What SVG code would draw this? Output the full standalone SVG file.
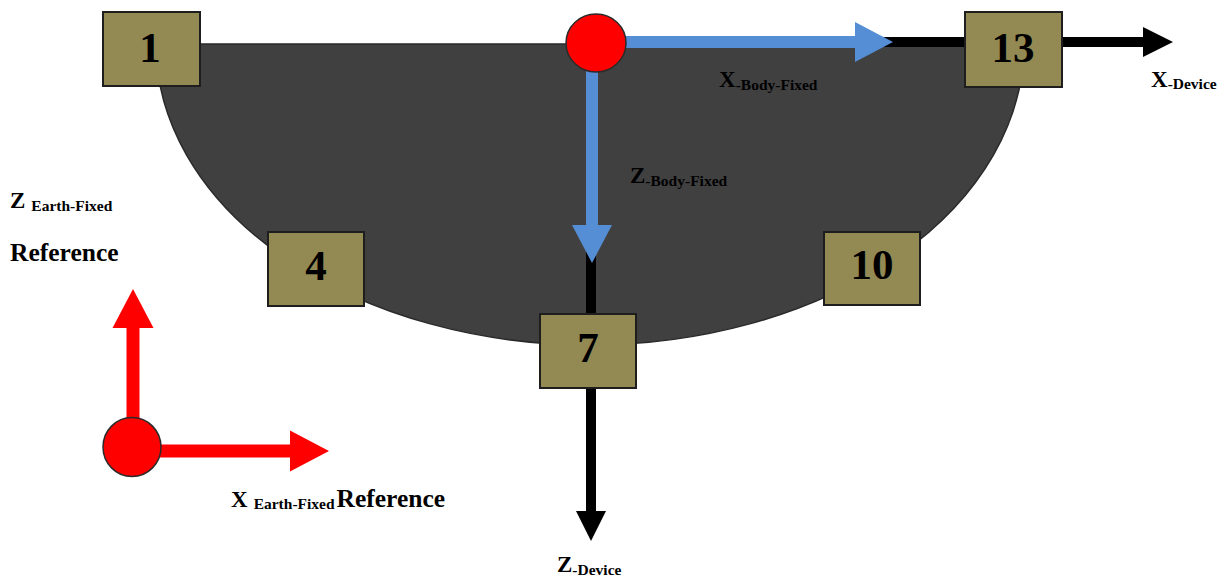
<svg xmlns="http://www.w3.org/2000/svg" width="1226" height="578" viewBox="0 0 1226 578">
<style>
.box{fill:#938953;stroke:#1e1e1e;stroke-width:2}
.num{font-family:"Liberation Serif","Times New Roman",serif;font-weight:bold;font-size:43px;fill:#000;text-anchor:middle}
.lbl{font-family:"Liberation Serif","Times New Roman",serif;font-weight:bold;fill:#000}
.big{font-size:23px}
.sub{font-size:15.5px}
.ref{font-size:25.5px}
.blue{stroke:#558ed5;stroke-width:12;fill:none}
.blk{stroke:#000;stroke-width:10;fill:none}
.red{stroke:#ff0000;stroke-width:13;fill:none}
.dot{fill:#ff0000;stroke:#2a2a2a;stroke-width:1.5}
</style>
<defs>
<marker id="hBlue" markerUnits="userSpaceOnUse" markerWidth="40" markerHeight="42" refX="0" refY="20" orient="auto" overflow="visible"><path d="M0,0 L38,20 L0,40 Z" fill="#558ed5"/></marker>
<marker id="hBlk" markerUnits="userSpaceOnUse" markerWidth="32" markerHeight="32" refX="0" refY="15" orient="auto" overflow="visible"><path d="M0,0 L30,15 L0,30 Z" fill="#000"/></marker>
<marker id="hRed" markerUnits="userSpaceOnUse" markerWidth="42" markerHeight="44" refX="0" refY="20.5" orient="auto" overflow="visible"><path d="M0,0 L39,20.5 L0,41 Z" fill="#ff0000"/></marker>
</defs>
<rect width="1226" height="578" fill="#fff"/>
<g id="body">
<path d="M156,44 A434,301 0 0 0 1024,44 Z" fill="#404040" stroke="#2a2a2a" stroke-width="1.5"/>
</g>
<g id="connectors">
<line class="blk" x1="880" y1="42" x2="966" y2="42"/>
<line class="blk" x1="1062" y1="42" x2="1143" y2="42" marker-end="url(#hBlk)"/>
<line class="blue" x1="610" y1="42" x2="855" y2="42" marker-end="url(#hBlue)"/>
<line class="blk" x1="591" y1="250" x2="591" y2="314"/>
<line class="blk" x1="591" y1="388" x2="591" y2="511" marker-end="url(#hBlk)"/>
<line class="blue" x1="592" y1="65" x2="592" y2="225" marker-end="url(#hBlue)"/>
<line class="red" x1="133" y1="430" x2="133" y2="328" marker-end="url(#hRed)"/>
<line class="red" x1="150" y1="451" x2="290" y2="451" marker-end="url(#hRed)"/>
</g>
<g id="node-1"><rect class="box" x="103" y="12" width="97" height="74"/><text class="num" x="150" y="62">1</text></g>
<g id="node-4"><rect class="box" x="268" y="232" width="96" height="74"/><text class="num" x="316" y="280">4</text></g>
<g id="node-7"><rect class="box" x="540" y="314" width="96" height="74"/><text class="num" x="588" y="362">7</text></g>
<g id="node-10"><rect class="box" x="824" y="232" width="96" height="73"/><text class="num" x="872" y="279">10</text></g>
<g id="node-13"><rect class="box" x="965" y="12" width="97" height="75"/><text class="num" x="1013" y="62">13</text></g>
<g id="origin-body"><ellipse class="dot" cx="596" cy="43" rx="30" ry="29"/></g>
<g id="origin-earth"><ellipse class="dot" cx="132" cy="447" rx="29" ry="29.5"/></g>
<g id="labels">
<text class="lbl" x="719" y="87"><tspan class="big">X</tspan><tspan class="sub" dy="3">-Body-Fixed</tspan></text>
<text class="lbl" x="630" y="183"><tspan class="big">Z</tspan><tspan class="sub" dy="3">-Body-Fixed</tspan></text>
<text class="lbl" x="1151" y="87"><tspan class="big">X</tspan><tspan class="sub" dy="2">-Device</tspan></text>
<text class="lbl" x="557" y="572"><tspan class="big">Z</tspan><tspan class="sub" dy="3">-Device</tspan></text>
<text class="lbl" x="10" y="208"><tspan class="big">Z</tspan><tspan class="sub" dx="6" dy="3">Earth-Fixed</tspan></text>
<text class="lbl ref" x="10" y="261">Reference</text>
<text class="lbl" x="231" y="507"><tspan class="big">X</tspan><tspan class="sub" dx="6" dy="2">Earth-Fixed</tspan><tspan class="ref" dx="2" dy="-2">Reference</tspan></text>
</g>
</svg>
